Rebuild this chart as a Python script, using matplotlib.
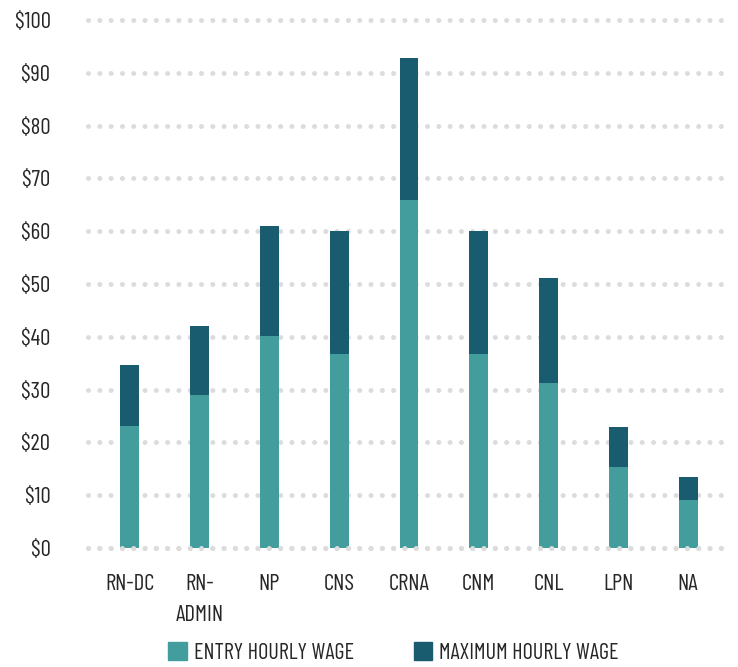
import numpy as np
import matplotlib
matplotlib.use("Agg")
import matplotlib.pyplot as plt
from matplotlib.patches import Patch
from matplotlib import font_manager

# dados
categorias = ["RN-DC", "RN-\nADMIN", "NP", "CNS", "CRNA", "CNM", "CNL", "LPN", "NA"]
entrada = [23.1, 29.0, 40.1, 36.7, 66.0, 36.7, 31.2, 15.4, 9.1]
maximo = [34.6, 42.1, 60.9, 60.0, 92.8, 60.0, 51.1, 22.9, 13.4]
ticks_y = [0, 10, 20, 30, 40, 50, 60, 70, 80, 90, 100]
rotulos_y = ["\\$" + str(t) for t in ticks_y]

cor_entrada = "#449d9d"
cor_max = "#195b6f"
cor_texto = "#262626"

# fonte estreita se existir
nomes = {f.name for f in font_manager.fontManager.ttflist}
fonte = [n for n in ["Barlow Condensed", "Roboto Condensed", "Liberation Sans Narrow",
                     "DejaVu Sans"] if n in nomes]
plt.rcParams["font.family"] = fonte
plt.rcParams["font.size"] = 16.5

fig = plt.figure(figsize=(7.38, 6.67), dpi=100)
ax = fig.add_axes([88 / 738, 1 - 548 / 667, (730 - 88) / 738, (548 - 20) / 667])

x = np.arange(len(categorias))
largura = 0.27
diferenca = np.array(maximo) - np.array(entrada)
ax.bar(x, entrada, largura, color=cor_entrada, zorder=2)
ax.bar(x, diferenca, largura, bottom=entrada, color=cor_max, zorder=2)

ax.set_xlim(-0.6, 8.6)
ax.set_ylim(0, 100)
ax.set_yticks(ticks_y)
ax.set_yticklabels(rotulos_y, color=cor_texto)
ax.set_xticks(x)
ax.set_xticklabels(categorias, color=cor_texto, linespacing=1.6)
ax.tick_params(axis="y", length=0, pad=27)
ax.tick_params(axis="x", length=0, pad=19)

# grade pontilhada
ax.set_axisbelow(True)
ax.yaxis.grid(True, color="#dcdcdc", linewidth=3.6, linestyle=(0, (0.01, 2.25)),
              dash_capstyle="round", clip_on=False)
ax.axhline(0, color="#dcdcdc", linewidth=3.6, linestyle=(0, (0.01, 2.25)),
           dash_capstyle="round", zorder=3, clip_on=False)
for s in ax.spines.values():
    s.set_visible(False)

handles = [Patch(color=cor_entrada, label="ENTRY HOURLY WAGE"),
           Patch(color=cor_max, label="MAXIMUM HOURLY WAGE")]
fig.legend(handles=handles, loc="center", bbox_to_anchor=(0.533, 1 - 653 / 667),
           ncol=2, frameon=False, handlelength=0.85, handleheight=0.85,
           handletextpad=0.3, columnspacing=2.7, labelcolor=cor_texto, fontsize=16)

fig.savefig("out.png", dpi=100)
